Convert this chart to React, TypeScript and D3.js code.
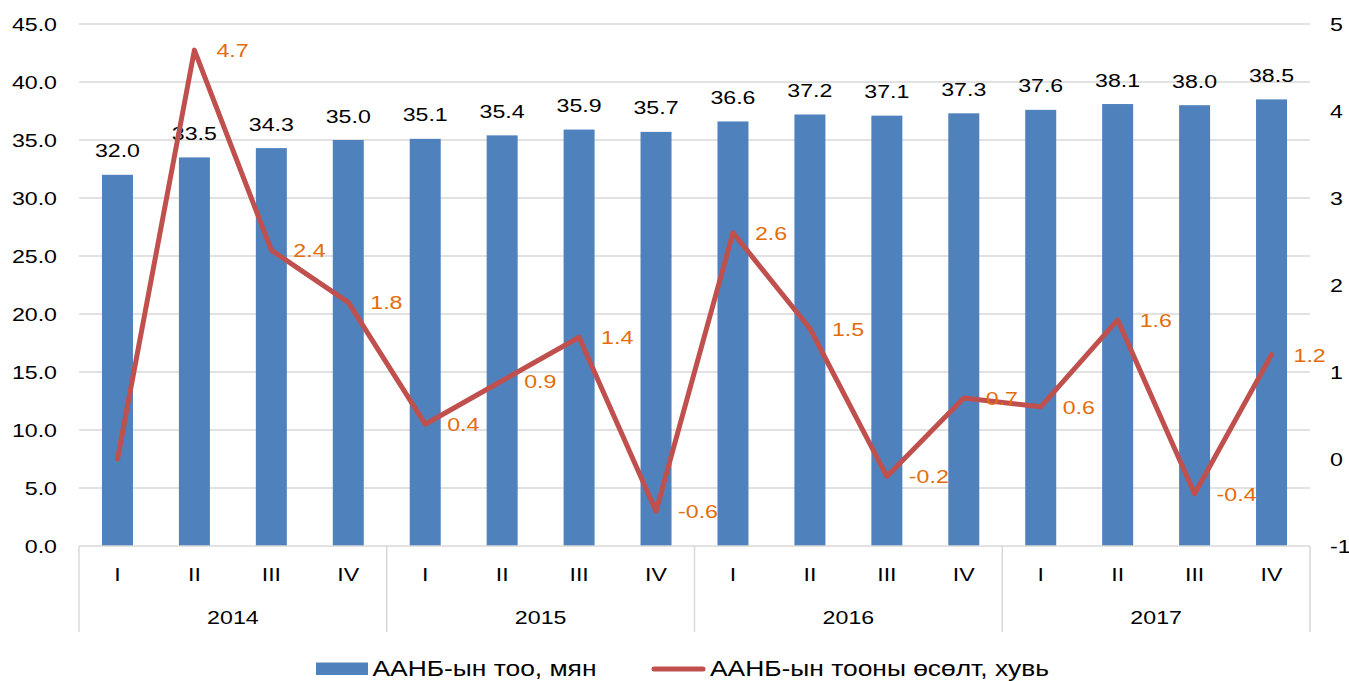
import React from "react";
import * as d3 from "d3";

const quarters = ["I","II","III","IV","I","II","III","IV","I","II","III","IV","I","II","III","IV"];
const years = ["2014","2015","2016","2017"];
const counts = [32.0,33.5,34.3,35.0,35.1,35.4,35.9,35.7,36.6,37.2,37.1,37.3,37.6,38.1,38.0,38.5];
const growth = [0,4.7,2.4,1.8,0.4,0.9,1.4,-0.6,2.6,1.5,-0.2,0.7,0.6,1.6,-0.4,1.2];
const growthLabels = ["","4.7","2.4","1.8","0.4","0.9","1.4","-0.6","2.6","1.5","-0.2","0.7","0.6","1.6","-0.4","1.2"];
const leftTicks = [0,5,10,15,20,25,30,35,40,45];
const rightTicks = [-1,0,1,2,3,4,5];
const legendNames = ["ААНБ-ын тоо, мян","ААНБ-ын тооны өсөлт, хувь"];

const W = 1349, H = 681;
const PL = 79, PR = 1310, PT = 24, PB = 546;
const SX = 1.22;
const FONT = "'Liberation Sans', Arial, sans-serif";
const BAR = "#4F81BD", LINE = "#C0504D", ORANGE = "#E46C0A", GRID = "#D9D9D9";

function T({x, y, anchor = "middle", size = 19, fill = "#000", sx = SX, children}: any) {
  return (
    <text transform={`translate(${x},${y}) scale(${sx},1)`} textAnchor={anchor}
      fontFamily={FONT} fontSize={size} fill={fill}>{children}</text>
  );
}

export default function App() {
  const step = (PR - PL) / quarters.length;
  const cx = (i: number) => PL + step * (i + 0.5);
  const yL = d3.scaleLinear().domain([0, 45]).range([PB, PT]);
  const yR = d3.scaleLinear().domain([-1, 5]).range([PB, PT]);
  const bw = 31;
  const line = d3.line<number>().x((_, i) => cx(i)).y(d => yR(d));

  return (
    <svg width={W} height={H} style={{position: "absolute", left: 0, top: 0, background: "#fff"}}>
      {leftTicks.map(t => (
        <g key={"g" + t}>
          {t > 0 && <line x1={PL} x2={PR} y1={yL(t)} y2={yL(t)} stroke={GRID} strokeWidth={1.5} />}
          <T x={57} y={yL(t) + 7} anchor="end">{t.toFixed(1)}</T>
        </g>
      ))}
      {rightTicks.map(t => (
        <T key={"r" + t} x={1330} y={yR(t) + 7} anchor="start">{String(t)}</T>
      ))}
      {counts.map((v, i) => (
        <g key={"b" + i}>
          <rect x={cx(i) - bw / 2} y={yL(v)} width={bw} height={PB - yL(v)} fill={BAR} />
          <T x={cx(i)} y={yL(v) - 17.5}>{v.toFixed(1)}</T>
        </g>
      ))}
      <line x1={PL} x2={PR} y1={PB} y2={PB} stroke={GRID} strokeWidth={1.5} />
      {years.map((_, k) => (
        <line key={"s" + k} x1={PL + k * 4 * step} x2={PL + k * 4 * step} y1={PB} y2={632} stroke={GRID} strokeWidth={1.5} />
      ))}
      <line x1={PR} x2={PR} y1={PB} y2={632} stroke={GRID} strokeWidth={1.5} />
      {quarters.map((q, i) => (
        <T key={"q" + i} x={cx(i)} y={581}>{q}</T>
      ))}
      {years.map((yname, k) => (
        <T key={"y" + k} x={PL + (k * 4 + 2) * step} y={624}>{yname}</T>
      ))}
      <path d={line(growth) || ""} fill="none" stroke={LINE} strokeWidth={5} strokeLinejoin="round" strokeLinecap="round" />
      {growth.map((v, i) => growthLabels[i] ? (
        <T key={"l" + i} x={cx(i) + 22} y={yR(v) + 7} anchor="start" fill={ORANGE}>{growthLabels[i]}</T>
      ) : null)}
      <rect x={316} y={662.5} width={52} height={12.5} fill={BAR} />
      <T x={372.5} y={676} anchor="start" size={22} sx={1.2}>{legendNames[0]}</T>
      <line x1={654} x2={703} y1={669} y2={669} stroke={LINE} strokeWidth={5} strokeLinecap="round" />
      <T x={710} y={676} anchor="start" size={22} sx={1.2}>{legendNames[1]}</T>
    </svg>
  );
}
